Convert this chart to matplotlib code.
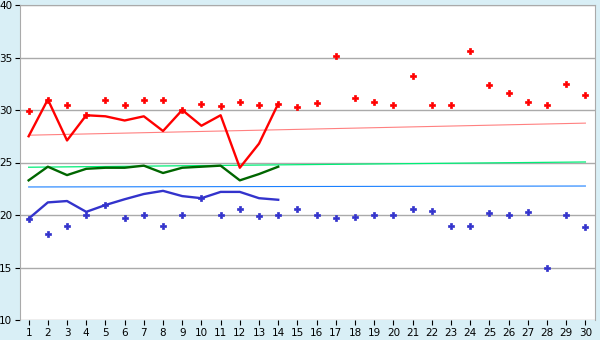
import matplotlib
matplotlib.use("Agg")
import matplotlib.pyplot as plt

# days 1..30
days = list(range(1, 31))
days_line = list(range(1, 15))

# red series
red_line = [27.5, 31.0, 27.1, 29.5, 29.4, 29.0, 29.4, 28.0, 30.0, 28.5, 29.5, 24.5, 26.8, 30.6]
red_dots = [29.9, 31.0, 30.5, 29.5, 31.0, 30.5, 31.0, 31.0, 30.0, 30.6,
            30.35, 30.8, 30.5, 30.6, 30.25, 30.7, 35.1, 31.1, 30.8, 30.45,
            33.2, 30.5, 30.45, 35.6, 32.35, 31.6, 30.8, 30.5, 32.5, 31.4]
red_trend = [27.6, 28.75]

# green series
green_line = [23.3, 24.6, 23.8, 24.4, 24.5, 24.5, 24.7, 24.0, 24.5, 24.6, 24.7, 23.3, 23.9, 24.6]
green_trend = [24.55, 25.05]

# blue series
blue_line = [19.65, 21.2, 21.33, 20.3, 20.95, 21.5, 22.0, 22.3, 21.8, 21.6, 22.2, 22.2, 21.6, 21.45]
blue_dots = [19.65, 18.15, 19.0, 19.97, 20.95, 19.75, 20.0, 19.0, 20.0, 21.6,
             20.0, 20.55, 19.9, 20.0, 20.55, 20.0, 19.7, 19.8, 20.0, 20.0,
             20.6, 20.35, 19.0, 19.0, 20.2, 20.0, 20.25, 15.0, 20.0, 18.9]
blue_trend = [22.67, 22.76]

fig = plt.figure(figsize=(6, 3.4), dpi=100)
fig.patch.set_facecolor("#d9eff6")
ax = fig.add_axes([20 / 600, 1 - 320 / 340, 575 / 600, 315 / 340])
ax.set_facecolor("white")

# trend lines
ax.plot([1, 30], red_trend, color="#ff8080", lw=0.8)
ax.plot([1, 30], green_trend, color="#00ee77", lw=0.9)
ax.plot([1, 30], blue_trend, color="#1a80ff", lw=0.8)

# dots
ax.plot(days, red_dots, ls="none", marker="P", ms=4.2, color="#ff0000", mec="#ff0000", mew=0.5)
ax.plot(days, blue_dots, ls="none", marker="P", ms=4.2, color="#3333cc", mec="#3333cc", mew=0.5)

# main lines
ax.plot(days_line, red_line, color="#ff0000", lw=1.7)
ax.plot(days_line, green_line, color="#006600", lw=1.7)
ax.plot(days_line, blue_line, color="#3333cc", lw=1.7)

ax.set_xlim(0.55, 30.5)
ax.set_ylim(10, 40)
ax.set_xticks(days)
ax.set_yticks([10, 15, 20, 25, 30, 35, 40])
ax.grid(axis="y", color="#aaaaaa", lw=1)
ax.set_axisbelow(True)
ax.tick_params(labelsize=7.5, length=3.5, width=0.8, color="black", pad=2)

for s in ["left", "right", "top"]:
    ax.spines[s].set_color("#aaaaaa")
ax.spines["bottom"].set_visible(False)

fig.savefig("out.png", dpi=100, facecolor=fig.get_facecolor())
